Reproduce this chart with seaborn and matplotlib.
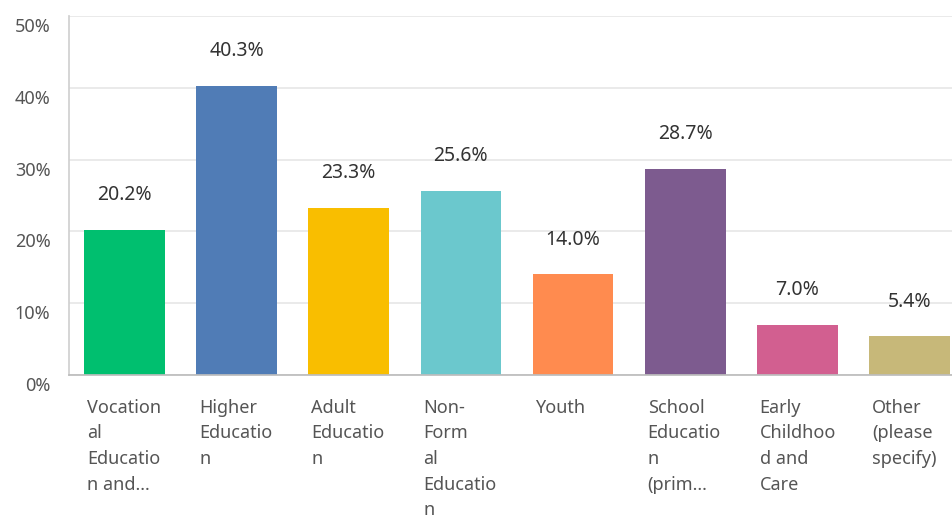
import matplotlib
matplotlib.use("Agg")
import matplotlib.pyplot as plt
import matplotlib.transforms as mtransforms
import seaborn as sns
import pandas as pd

categories = ["Vocation\nal\nEducatio\nn and...", "Higher\nEducatio\nn", "Adult\nEducatio\nn",
              "Non-\nForm\nal\nEducatio\nn", "Youth", "School\nEducatio\nn\n(prim...",
              "Early\nChildhoo\nd and\nCare", "Other\n(please\nspecify)"]
values = [20.2, 40.3, 23.3, 25.6, 14.0, 28.7, 7.0, 5.4]
colors = ["#00BF6F", "#507CB6", "#F9BE00", "#6BC8CD", "#FF8B4F", "#7D5B8F", "#D25F90", "#C7B879"]
yticks = [0, 10, 20, 30, 40, 50]

sns.set_theme(style="white")
plt.rcParams['font.family'] = ['Noto Sans', 'DejaVu Sans']

fig = plt.figure(figsize=(9.53, 5.16), dpi=100)
ax = fig.add_axes([68.5/953, 1-375/516, 897/953, (375-16)/516])

df = pd.DataFrame({"cat": categories, "val": values})
sns.barplot(data=df, x="cat", y="val", hue="cat", palette=colors, legend=False,
            width=0.72, ax=ax, saturation=1, linewidth=0)

ax.set_ylim(0, 50)
ax.set_xlim(-0.5, len(categories) - 0.5)
ax.set_yticks(yticks)
ax.set_yticklabels([f"{t}%" for t in yticks], color="#555555", fontsize=13)
ax.tick_params(axis='y', length=0, pad=13)
shift = mtransforms.ScaledTranslation(0, -9/100, fig.dpi_scale_trans)
for lbl in ax.get_yticklabels():
    lbl.set_transform(lbl.get_transform() + shift)
ax.set_xticks([])
ax.set_xlabel("")
ax.set_ylabel("")
ax.yaxis.grid(True, color="#E6E6E6", linewidth=1.2)
ax.set_axisbelow(True)
for s in ["top", "right"]:
    ax.spines[s].set_visible(False)
ax.spines["left"].set_color("#D0D0D0")
ax.spines["bottom"].set_color("#BDBDBD")

for i, v in enumerate(values):
    ax.annotate(f"{v:.1f}%", xy=(i, v), xytext=(0, 25), textcoords="offset points",
                ha="center", va="center", fontsize=14, color="#333333")
    ax.annotate(categories[i], xy=(i - 0.36, 0), xycoords=("data", "axes fraction"),
                xytext=(2, -17), textcoords="offset points", ha="left", va="top",
                fontsize=13, color="#555555", linespacing=1.55)

fig.savefig("out.png", dpi=100)
